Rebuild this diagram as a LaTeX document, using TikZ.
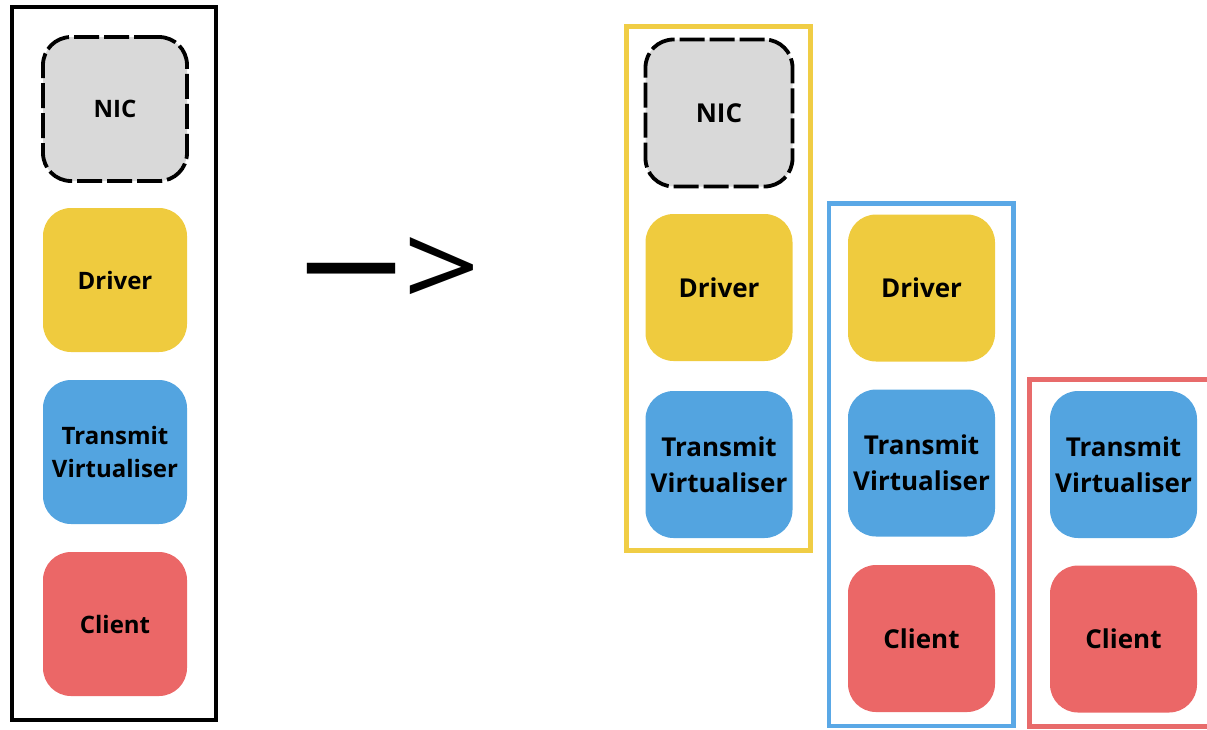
\documentclass[tikz,border=0pt]{standalone}
\usepackage{fontspec}
\setmainfont{Open Sans}
\begin{document}
\begin{tikzpicture}[x=1pt,y=-1pt,
  block/.style={rounded corners=28pt, minimum width=#1, minimum height=#1,
    inner sep=0pt, align=center, text=black},
  block/.default=147pt,
  nicbox/.style={block=#1, fill=nicgray, draw=black, line width=3.8pt,
    dash pattern=on 25pt off 5pt},
  nicbox/.default=147pt,
  drvbox/.style={block=#1, fill=drvyellow},
  drvbox/.default=147pt,
  txbox/.style={block=#1, fill=txblue},
  txbox/.default=147pt,
  clbox/.style={block=#1, fill=clred},
  clbox/.default=147pt,
  small/.style={font=\fontsize{24}{33}\selectfont\bfseries},
  large/.style={font=\fontsize{26}{36}\selectfont\bfseries},
  frame/.style={line width=#1}
]
\definecolor{nicgray}{HTML}{D9D9D9}
\definecolor{drvyellow}{HTML}{EFCB3E}
\definecolor{txblue}{HTML}{53A4E0}
\definecolor{clred}{HTML}{EB6767}
\definecolor{frameyellow}{HTML}{F0CD45}
\definecolor{frameblue}{HTML}{5AA8E6}
\definecolor{framered}{HTML}{E86B6B}

\useasboundingbox (0,0) rectangle (1207,729);
\clip (0,0) rectangle (1207,729);

% original stack
\draw[frame=4pt, black] (12,7) rectangle (216,720);
\node[nicbox=144pt, small] (nicA) at (115,109) {NIC};
\node[drvbox=144pt, small] (drvA) at (115,280) {Driver};
\node[txbox=144pt, small] (txA) at (115,452) {Transmit\\Virtualiser};
\node[clbox=144pt, small] (clA) at (115,624) {Client};

% arrow text
\node[font=\fontsize{96}{96}\selectfont\bfseries, inner sep=0pt] (arrow) at (392,273.5)
  {—\kern4pt\raisebox{-14pt}{\scalebox{1.4}[1.22]{\mdseries >}}};

% split stacks
\draw[frame=5pt, frameyellow] (626,26) rectangle (810,550);
\node[nicbox, large] (nicB) at (719,113) {NIC};
\node[drvbox, large] (drvB) at (719,287.5) {Driver};
\node[txbox, large] (txB) at (719,464.5) {Transmit\\Virtualiser};

\draw[frame=4.5pt, frameblue] (829,203.5) rectangle (1013.5,726);
\node[drvbox, large] (drvC) at (921.5,288) {Driver};
\node[txbox, large] (txC) at (921.5,463) {Transmit\\Virtualiser};
\node[clbox, large] (clC) at (921.5,638.5) {Client};

\draw[frame=5pt, framered] (1029.5,379.5) rectangle (1220,726);
\node[txbox, large] (txD) at (1123.5,464.5) {Transmit\\Virtualiser};
\node[clbox, large] (clD) at (1123.5,639) {Client};
\end{tikzpicture}
\end{document}
